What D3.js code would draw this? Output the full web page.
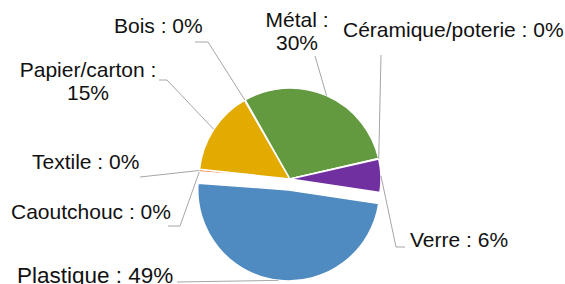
<!DOCTYPE html>
<html>
<head>
<meta charset="utf-8">
<script src="https://cdn.jsdelivr.net/npm/d3@7"></script>
<style>
  html, body { margin: 0; padding: 0; background: #fff; }
  svg { display: block; }
</style>
</head>
<body>
<div id="chart"></div>
<script>
"use strict";
// categories in drawing order (clockwise)
const categories = ["Plastique", "Caoutchouc", "Textile", "Papier/carton", "Bois", "Métal", "Céramique/poterie", "Verre"];
// share of each category, percent
const shares = [48.8, 0.1, 0.4, 15.0, 0.1, 29.6, 0.1, 5.9];
const colors = ["#4f8bc0", "#a5a5a5", "#e46c1e", "#e3aa00", "#8b5a2b", "#63993f", "#c0504d", "#7030a0"];
// labels split in lines (only two of them wrap)
const labelBreak = {"Papier/carton": true, "Métal": true};
const exploded = "Plastique";

const width = 565, height = 284;
const cx = 290, cy = 179, radius = 91, explode = 11;
const startDeg = 98.6;

// label placement: text anchor + leader start / elbow
const labelPos = {
  "Plastique":         {x: 17,  y: 283, anchor: "start",  size: 22.5, lead: [[177, 282]]},
  "Caoutchouc":        {x: 11,  y: 219, anchor: "start",  lead: [[168, 226], [180, 226]]},
  "Textile":           {x: 32,  y: 169, anchor: "start",  lead: [[140, 177]]},
  "Papier/carton":     {x: 88,  y: 77,  anchor: "middle", lead: [[159, 80], [167, 80]]},
  "Bois":              {x: 114, y: 33,  anchor: "start",  lead: [[195, 42], [208, 42]]},
  "Métal":             {x: 297, y: 27,  anchor: "middle", lead: [[315, 56]]},
  "Céramique/poterie": {x: 343, y: 37,  anchor: "start",  lead: [[381, 55]]},
  "Verre":             {x: 410, y: 247, anchor: "start",  lead: [[405, 247], [396, 247]]}
};

const data = categories.map((c, i) => ({name: c, value: shares[i], color: colors[i]}));
const total = d3.sum(shares);

const pie = d3.pie()
    .value(d => d.value)
    .sort(null)
    .startAngle(startDeg * Math.PI / 180)
    .endAngle(startDeg * Math.PI / 180 + 2 * Math.PI);

const arc = d3.arc().innerRadius(0).outerRadius(radius);
const arcs = pie(data);

function offsetOf(a) {
  if (a.data.name !== exploded) return [0, 0];
  const m = (a.startAngle + a.endAngle) / 2;
  return [Math.sin(m) * explode, -Math.cos(m) * explode];
}

const svg = d3.select("#chart").append("svg")
    .attr("width", width)
    .attr("height", height)
    .attr("viewBox", [0, 0, width, height]);

const g = svg.append("g").attr("transform", `translate(${cx},${cy})`);

g.selectAll("path")
  .data(arcs)
  .join("path")
    .attr("transform", d => `translate(${offsetOf(d)})`)
    .attr("d", arc)
    .attr("fill", d => d.data.color)
    .attr("stroke", "#fff")
    .attr("stroke-width", 1.5)
    .attr("stroke-linejoin", "round");

// leader lines
const line = d3.line();
svg.append("g")
    .attr("fill", "none")
    .attr("stroke", "#a6a6a6")
    .attr("stroke-width", 1)
  .selectAll("path")
  .data(arcs)
  .join("path")
    .attr("d", d => {
      const m = (d.startAngle + d.endAngle) / 2;
      const [ox, oy] = offsetOf(d);
      const end = [cx + ox + Math.sin(m) * radius, cy + oy - Math.cos(m) * radius];
      return line(labelPos[d.data.name].lead.concat([end]));
    });

// labels
const labels = svg.append("g")
    .style("font-family", "Liberation Sans, Arial, sans-serif")
    .style("font-size", "21px")
    .attr("fill", "#111");

arcs.forEach(d => {
  const p = labelPos[d.data.name];
  const pct = Math.round(d.data.value / total * 100) + "%";
  const t = labels.append("text")
      .attr("x", p.x)
      .attr("y", p.y)
      .attr("text-anchor", p.anchor);
  if (p.size) t.style("font-size", p.size + "px");
  if (labelBreak[d.data.name]) {
    t.append("tspan").attr("x", p.x).text(d.data.name + " :");
    t.append("tspan").attr("x", p.x).attr("dy", 23).text(pct);
  } else {
    t.text(d.data.name + " : " + pct);
  }
});
</script>
</body>
</html>
